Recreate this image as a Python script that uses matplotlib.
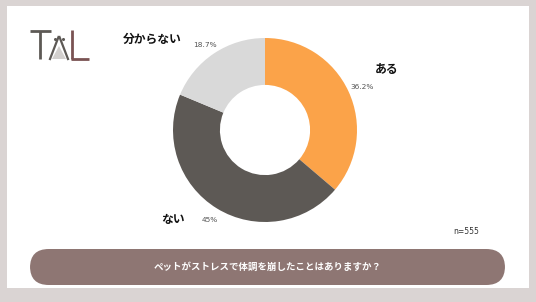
import matplotlib.pyplot as plt
from matplotlib.patches import FancyBboxPatch, Rectangle, Polygon

plt.rcParams['font.family'] = ['Noto Sans CJK JP', 'DejaVu Sans']

# data
labels = ['ある', 'ない', '分からない']
values = [36.2, 45.0, 18.7]
pct_labels = ['36.2%', '45%', '18.7%']
colors = ['#FBA349', '#5D5955', '#D9D9D9']
question = 'ペットがストレスで体調を崩したことはありますか？'
n_text = 'n=555'

W, H = 536, 302
fig = plt.figure(figsize=(W / 100, H / 100), dpi=100)
fig.patch.set_facecolor('#DAD4D3')

# white card
fig.patches.append(Rectangle((7 / W, 1 - 288 / H), 522 / W, 282 / H,
                             transform=fig.transFigure, facecolor='white',
                             edgecolor='none', zorder=-5))

# pie axes, centred at (265, 130) px with radius 92 px
cx, cy, r = 265, 130, 92
half = 110
ax = fig.add_axes([(cx - half) / W, 1 - (cy + half) / H, 2 * half / W, 2 * half / H])
ax.pie(values, colors=colors, startangle=90, counterclock=False,
       radius=1, wedgeprops=dict(width=0.51, edgecolor='none'))
ax.set_xlim(-half / r, half / r)
ax.set_ylim(-half / r, half / r)
ax.set_aspect('equal')
ax.axis('off')

def px(x, y):
    return (x - cx) / r, (cy - y) / r

name_pos = [(387, 69), (173, 219), (152, 39)]
pct_pos = [(362, 87), (210, 220), (205, 45)]
for lab, p, npos, ppos in zip(labels, pct_labels, name_pos, pct_pos):
    ax.text(*px(*npos), lab, ha='center', va='center', fontsize=8.5,
            fontweight='bold', color='#111111', zorder=5)
    ax.text(*px(*ppos), p, ha='center', va='center', fontsize=5.3,
            color='#555555', family=['DejaVu Sans'], zorder=5)

fig.text(466 / W, 1 - 232 / H, n_text, ha='center', va='center',
         fontsize=5.5, color='#333333', family=['DejaVu Sans'])

# question bar
bar = FancyBboxPatch((30 / W, 1 - 285 / H), 475 / W, 36 / H,
                     boxstyle='round,pad=0,rounding_size=0.035',
                     transform=fig.transFigure, facecolor='#8E7673',
                     edgecolor='none', mutation_aspect=W / H)
fig.patches.append(bar)
fig.text(268 / W, 1 - 267 / H, question, ha='center', va='center',
         fontsize=6.8, fontweight='bold', color='white')

# logo "TAL"
lax = fig.add_axes([0, 0, 1, 1], facecolor='none')
lax.set_xlim(0, W)
lax.set_ylim(H, 0)
lax.axis('off')
dark, brown = '#5D5955', '#7A5353'
lax.plot([30, 51], [31, 31], color=dark, lw=2.0, solid_capstyle='butt')
lax.plot([40, 40], [31, 59], color=dark, lw=2.0, solid_capstyle='butt')
lax.add_patch(Polygon([[59, 46], [52, 59], [66, 59]], closed=True,
                      facecolor='#D3D0CE', edgecolor='none'))
lax.plot([58.5, 50], [37, 59], color=dark, lw=1.6)
lax.plot([59.5, 68], [37, 59], color=dark, lw=1.6)
lax.plot([55, 63], [39, 39], 'o', color=dark, ms=1.2)
lax.plot([72, 72], [30, 59], color=brown, lw=2.0, solid_capstyle='butt')
lax.plot([71, 89], [58.5, 58.5], color=brown, lw=2.0, solid_capstyle='butt')

fig.savefig('out.png', dpi=100)
